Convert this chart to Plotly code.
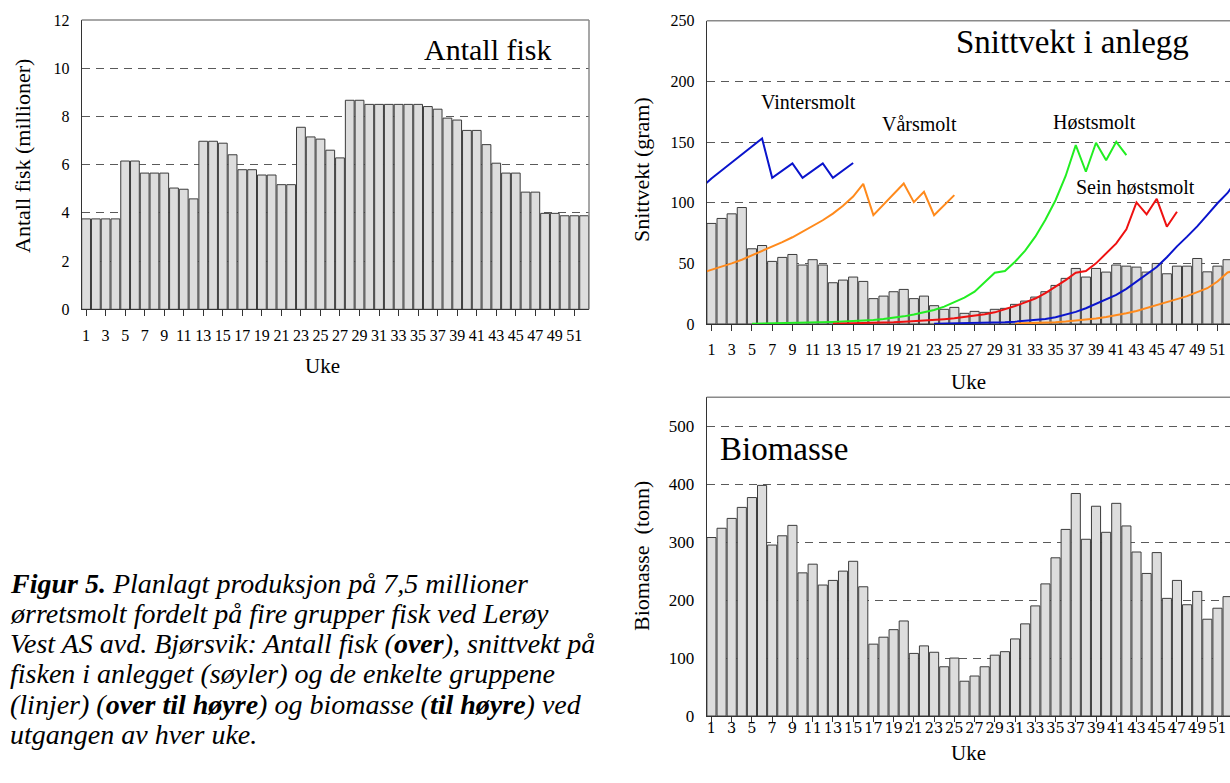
import plotly.graph_objects as go

# ---- data -------------------------------------------------------------
uke = list(range(1, 53))
uke_ticks = list(range(1, 52, 2))

# number of fish in the plant (millions) at the end of each week
antall_fisk = [3.75, 3.75, 3.75, 3.75, 6.15, 6.15, 5.65, 5.65, 5.65, 5.03,
               4.98, 4.58, 6.97, 6.97, 6.89, 6.41, 5.79, 5.79, 5.57, 5.57,
               5.17, 5.17, 7.55, 7.15, 7.06, 6.60, 6.28, 8.67, 8.67, 8.50,
               8.50, 8.50, 8.50, 8.50, 8.50, 8.41, 8.30, 7.93, 7.85, 7.42,
               7.42, 6.83, 6.06, 5.65, 5.65, 4.86, 4.86, 3.98, 3.98, 3.88,
               3.88, 3.88]

# mean weight of all fish in the plant (gram)
snittvekt = [82.9, 87.0, 90.8, 96.0, 62.0, 64.7, 51.6, 54.9, 57.3, 48.6,
             53.0, 48.6, 34.0, 36.2, 38.7, 35.1, 20.9, 23.0, 26.6, 28.5,
             20.9, 23.0, 15.1, 12.1, 13.7, 8.8, 10.4, 9.6, 12.1, 12.9,
             16.2, 18.9, 22.2, 26.6, 31.8, 37.6, 45.8, 38.7, 45.8, 42.8,
             48.6, 47.7, 46.9, 42.8, 49.9, 41.4, 47.7, 47.7, 54.0, 43.0,
             47.7, 53.0]

# biomass (tonnes)
biomasse = [308, 324, 341, 360, 377, 398, 295, 311, 329, 247,
            262, 226, 234, 250, 267, 223, 124, 136, 149, 164,
            108, 121, 110, 85, 100, 60, 69, 85, 105, 111,
            133, 159, 190, 228, 273, 322, 384, 305, 362, 317,
            367, 328, 283, 246, 282, 203, 234, 192, 215, 167,
            186, 206]

# mean weight per group (gram)
vinter_uke_a = list(range(0, 16))
vinter_a = [112.3, 120.0, 126.5, 133.0, 139.6, 146.3, 153.0, 120.5,
            126.4, 132.4, 120.5, 126.4, 132.4, 120.5, 126.6, 132.7]
vinter_uke_b = list(range(23, 54))
vinter_b = [0.3, 0.4, 0.5, 0.6, 0.8, 1.0, 1.2, 1.5, 1.9, 2.5, 3.2, 4.2,
            5.5, 7.5, 10.0, 13.0, 16.5, 20.0, 24.0, 29.0, 35.0, 40.5,
            47.0, 55.0, 64.0, 72.0, 80.5, 90.0, 99.5, 108.0, 120.0]

var_uke_a = list(range(0, 26))
var_a = [42.0, 44.5, 47.0, 50.0, 53.0, 56.5, 60.0, 63.7, 67.5, 71.5,
         76.0, 80.5, 85.5, 91.0, 97.5, 105.0, 115.5, 89.7, 98.4, 107.1,
         115.8, 100.4, 109.0, 89.7, 98.0, 106.2]
var_uke_b = list(range(31, 54))
var_b = [0.3, 0.5, 0.7, 1.0, 1.4, 2.0, 2.7, 3.5, 4.5, 5.8, 7.2, 8.8,
         10.7, 13.0, 15.5, 18.0, 20.5, 23.0, 26.0, 29.5, 35.0, 42.5, 44.5]

host_uke = list(range(5, 43))
host = [0.3, 0.4, 0.5, 0.6, 0.8, 1.0, 1.2, 1.4, 1.7, 2.0, 2.3, 2.8, 3.3,
        4.1, 5.0, 6.3, 7.8, 9.5, 11.5, 14.3, 17.8, 21.8, 26.6, 34.8, 42.2,
        43.6, 51.3, 60.5, 72.0, 86.0, 102.0, 122.0, 147.4, 125.5, 149.4,
        135.0, 150.2, 139.2]

sein_uke = list(range(13, 48))
sein = [0.3, 0.4, 0.5, 0.7, 0.9, 1.1, 1.4, 1.8, 2.2, 2.8, 3.4, 4.0, 4.7,
        5.6, 6.6, 8.0, 9.6, 12.0, 14.8, 17.8, 21.0, 25.5, 30.7, 36.2,
        42.2, 43.6, 50.0, 58.2, 66.4, 78.0, 100.2, 90.4, 103.2, 80.2, 92.5]

# caption lines
caption_lines = [
    "<b>Figur 5.</b> Planlagt produksjon på 7,5 millioner",
    "ørretsmolt fordelt på fire grupper fisk ved Lerøy",
    "Vest AS avd. Bjørsvik: Antall fisk (<b>over</b>), snittvekt på",
    "fisken i anlegget (søyler) og de enkelte gruppene",
    "(linjer) (<b>over til høyre</b>) og biomasse (<b>til høyre</b>) ved",
    "utgangen av hver uke.",
]

# ---- styling ------------------------------------------------------------
W, H = 1230, 783
SERIF = "Liberation Serif"
BAR_FILL = "#dddddd"
BAR_EDGE = "#3c3c3c"
AX = "#333333"
GRID = "#5a5a5a"
FRAME = "#8a8a8a"
BLUE, ORANGE, GREEN, RED = "#0a14cc", "#ff8a1c", "#22ee22", "#ee1111"


def px(x):
    return x / W


def py(y):
    return 1 - y / H


fig = go.Figure()

bar_style = dict(marker=dict(color=BAR_FILL, line=dict(color=BAR_EDGE, width=1)),
                 showlegend=False, hoverinfo="x+y")

fig.add_trace(go.Bar(x=uke, y=antall_fisk, width=0.9, xaxis="x", yaxis="y", **bar_style))
fig.add_trace(go.Bar(x=uke, y=snittvekt, width=0.9, xaxis="x2", yaxis="y2", **bar_style))
fig.add_trace(go.Bar(x=uke, y=biomasse, width=0.9, xaxis="x3", yaxis="y3", **bar_style))

for xs, ys, col in [(vinter_uke_a, vinter_a, BLUE), (vinter_uke_b, vinter_b, BLUE),
                    (var_uke_a, var_a, ORANGE), (var_uke_b, var_b, ORANGE),
                    (host_uke, host, GREEN), (sein_uke, sein, RED)]:
    fig.add_trace(go.Scatter(x=xs, y=ys, mode="lines", line=dict(color=col, width=2),
                             xaxis="x2", yaxis="y2", showlegend=False))


def xaxis(domain, anchor, rng, font, ticklen=6, standoff=5):
    return dict(domain=domain, anchor=anchor, range=rng, tickmode="array",
                tickvals=uke_ticks, ticktext=[str(t) for t in uke_ticks],
                ticks="outside", ticklen=ticklen, tickcolor=AX, tickwidth=1, tickangle=0,
                showline=True, linecolor=AX, linewidth=1, showgrid=False,
                zeroline=False, tickfont=font, ticklabelstandoff=standoff,
                automargin=False, fixedrange=True)


def yaxis(domain, anchor, rng, vals, font):
    return dict(domain=domain, anchor=anchor, range=rng, tickmode="array",
                tickvals=vals, ticks="", showline=True, linecolor=AX, linewidth=1,
                showgrid=True, gridcolor=GRID, gridwidth=1, griddash="8px,6px",
                zeroline=False, tickfont=font, ticklabelstandoff=8,
                automargin=False, fixedrange=True)


tick_font = dict(family=SERIF, size=16, color="black")
tick_font_wide = dict(family="DejaVu Serif", size=14.5, color="black")
tick_font_b = dict(family=SERIF, size=17, color="black")

right_dom = [px(706.7), 1.0]

fig.update_layout(
    width=W, height=H, autosize=False,
    margin=dict(l=0, r=0, t=0, b=0),
    paper_bgcolor="white", plot_bgcolor="white",
    bargap=0.1,
    xaxis=xaxis([px(81.7), px(589)], "y", [0.55, 52.5], tick_font),
    yaxis=yaxis([py(309.3), py(20)], "x", [0, 12], list(range(0, 13, 2)), tick_font),
    xaxis2=xaxis(right_dom, "y2", [0.53, 52.24], tick_font),
    yaxis2=yaxis([py(324), py(20.7)], "x2", [0, 250], list(range(0, 251, 50)), tick_font),
    xaxis3=xaxis(right_dom, "y3", [0.53, 52.24], tick_font_wide, ticklen=5, standoff=-6),
    yaxis3=yaxis([py(716), py(397.3)], "x3", [0, 550], list(range(0, 501, 100)), tick_font_b),
)

# frame lines along top (and right side of the left chart)
shapes = []
for xr, yr in [("x", "y"), ("x2", "y2"), ("x3", "y3")]:
    shapes.append(dict(type="line", xref=f"{xr} domain", yref=f"{yr} domain",
                       x0=0, x1=1, y0=1, y1=1, line=dict(color=FRAME, width=1.5)))
shapes.append(dict(type="line", xref="x domain", yref="y domain",
                   x0=1, x1=1, y0=0, y1=1, line=dict(color=FRAME, width=1.5)))
fig.update_layout(shapes=shapes)

ann = []


def text(x, y, s, size, xanchor="center", yanchor="middle", angle=0, style="normal"):
    ann.append(dict(x=px(x), y=py(y), xref="paper", yref="paper", text=s,
                    showarrow=False, xanchor=xanchor, yanchor=yanchor,
                    textangle=angle,
                    font=dict(family=SERIF, size=size, color="black", style=style)))


# panel titles
text(488, 50, "Antall fisk", 30)
text(1072, 42, "Snittvekt i anlegg", 33)
text(784, 449, "Biomasse", 33)

# group labels
text(808, 102, "Vintersmolt", 20)
text(919, 124, "Vårsmolt", 20)
text(1094, 122, "Høstsmolt", 20)
text(1135, 187, "Sein høstsmolt", 20)

# axis titles
text(322, 366, "Uke", 21)
text(968, 382, "Uke", 21)
text(968, 753, "Uke", 21)
text(22, 156, "Antall fisk (millioner)", 22, angle=-90)
text(641, 170, "Snittvekt (gram)", 22, angle=-90)
text(641, 556, "Biomasse  (tonn)", 22, angle=-90)

# figure caption, one line at a time
for i, line in enumerate(caption_lines):
    text(8, 583 + i * 30.3, line, 28, xanchor="left", style="italic")

fig.update_layout(annotations=ann)

fig.write_html("out.html")
